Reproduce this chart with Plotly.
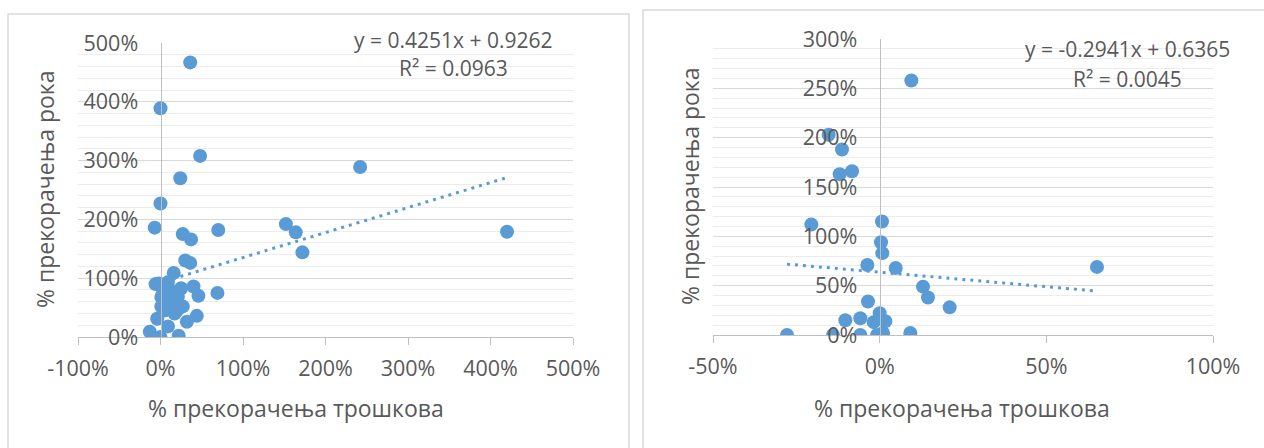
import plotly.graph_objects as go

W, H = 1264, 448

# ---- left panel: all projects (1.0 = 100 %) ----
cost_overrun_a = [0.36, 0.00, 0.48, 0.24, 0.00, -0.07, 0.27, 0.37, 0.70, 1.52,
                  1.64, 1.72, 2.42, 4.20, 0.30, 0.36, 0.16, -0.02, 0.09, 0.40,
                  0.46, 0.69, 0.01, 0.15, 0.21, 0.01, 0.13, 0.27, 0.17, 0.44,
                  0.32, -0.04, 0.09, -0.13, 0.00, 0.22, 0.07, 0.25, -0.06, 0.03,
                  0.10, 0.20, 0.05]
time_overrun_a = [4.67, 3.89, 3.08, 2.70, 2.27, 1.86, 1.75, 1.66, 1.82, 1.92,
                  1.78, 1.44, 2.89, 1.79, 1.30, 1.26, 1.09, 0.91, 0.93, 0.86,
                  0.70, 0.75, 0.68, 0.77, 0.69, 0.52, 0.55, 0.52, 0.40, 0.36,
                  0.26, 0.31, 0.18, 0.09, 0.00, 0.02, 0.60, 0.83, 0.90, 0.80,
                  0.70, 0.45, 0.45]
slope_a, intercept_a, r2_a = 0.4251, 0.9262, 0.0963
xticks_a = [-1, 0, 1, 2, 3, 4, 5]
xlabels_a = ["-100%", "0%", "100%", "200%", "300%", "400%", "500%"]
yticks_a = [0, 1, 2, 3, 4, 5]
ylabels_a = ["0%", "100%", "200%", "300%", "400%", "500%"]

# ---- right panel: subset ----
cost_overrun_b = [0.095, -0.153, -0.113, -0.120, -0.083, -0.205, 0.007, 0.004,
                  0.008, -0.037, 0.048, 0.130, 0.145, 0.210, -0.035, -0.103,
                  -0.058, 0.000, 0.017, -0.018, -0.278, -0.140, -0.058, -0.008,
                  0.010, 0.092, 0.652]
time_overrun_b = [2.58, 2.03, 1.88, 1.63, 1.66, 1.12, 1.15, 0.94, 0.83, 0.71,
                  0.68, 0.49, 0.38, 0.28, 0.34, 0.15, 0.17, 0.22, 0.14, 0.13,
                  0.00, 0.00, 0.00, 0.00, 0.02, 0.02, 0.69]
slope_b, intercept_b, r2_b = -0.2941, 0.6365, 0.0045
xticks_b = [-0.5, 0, 0.5, 1]
xlabels_b = ["-50%", "0%", "50%", "100%"]
yticks_b = [0, 0.5, 1, 1.5, 2, 2.5, 3]
ylabels_b = ["0%", "50%", "100%", "150%", "200%", "250%", "300%"]

x_title = "% прекорачења трошкова"
y_title = "% прекорачења рока"

BLUE = "#5B9BD5"
TEXT = "#595959"
AXIS = "#bfbfbf"
MAJOR = "#d9d9d9"
MINOR = "#ececec"
FONT = "Open Sans"


def px(x):
    return x / W


def py(y):
    return 1 - y / H


def trend(xs, m, b):
    lo, hi = min(xs), max(xs)
    return [lo, hi], [m * lo + b, m * hi + b]


fig = go.Figure()

for xs, ys, m, b, xa, ya in [
    (cost_overrun_a, time_overrun_a, slope_a, intercept_a, "x", "y"),
    (cost_overrun_b, time_overrun_b, slope_b, intercept_b, "x2", "y2"),
]:
    tx, ty = trend(xs, m, b)
    fig.add_trace(go.Scatter(x=tx, y=ty, mode="lines", xaxis=xa, yaxis=ya,
                             line=dict(color=BLUE, width=3, dash="3px,5px"),
                             hoverinfo="skip", showlegend=False))
    fig.add_trace(go.Scatter(x=xs, y=ys, mode="markers", xaxis=xa, yaxis=ya,
                             marker=dict(color=BLUE, size=14, line=dict(width=0)),
                             showlegend=False))

tick_font = dict(family=FONT, size=21.5, color=TEXT)

common_x = dict(showgrid=False, zeroline=False, showline=True, linecolor=AXIS,
                linewidth=1, ticks="outside", ticklen=7, tickcolor=AXIS,
                tickmode="array", tickfont=tick_font, ticklabelstandoff=5,
                automargin=False, fixedrange=True)
common_y = dict(showgrid=True, gridcolor=MAJOR, zeroline=False, showline=True,
                linecolor=AXIS, linewidth=1, ticks="", tickmode="array",
                tickfont=tick_font, anchor="free", ticklabelstandoff=18,
                automargin=False, fixedrange=True)

fig.update_layout(
    width=W, height=H, autosize=False,
    margin=dict(l=0, r=0, t=0, b=0, pad=0, autoexpand=False),
    paper_bgcolor="white", plot_bgcolor="white",
    font=dict(family=FONT, color=TEXT),
    xaxis=dict(common_x, domain=[px(78), px(573)], range=[-1, 5],
               tickvals=xticks_a, ticktext=xlabels_a, anchor="y"),
    yaxis=dict(common_y, domain=[py(337), py(43)], range=[0, 5],
               tickvals=yticks_a, ticktext=ylabels_a, position=px(160.5),
               minor=dict(tickmode="linear", tick0=0, dtick=0.2,
                          showgrid=True, gridcolor=MINOR)),
    xaxis2=dict(common_x, domain=[px(713), px(1213)], range=[-0.5, 1],
                tickvals=xticks_b, ticktext=xlabels_b, anchor="y2"),
    yaxis2=dict(common_y, domain=[py(335), py(39)], range=[0, 3],
                tickvals=yticks_b, ticktext=ylabels_b, position=px(879.7),
                minor=dict(tickmode="linear", tick0=0, dtick=0.1,
                           showgrid=True, gridcolor=MINOR)),
)

# chart frames
fig.add_shape(type="rect", xref="paper", yref="paper",
              x0=px(8), x1=px(629), y0=-0.2, y1=py(14),
              line=dict(color=MAJOR, width=1.5), layer="below")
fig.add_shape(type="rect", xref="paper", yref="paper",
              x0=px(643), x1=1.2, y0=-0.2, y1=py(10),
              line=dict(color=MAJOR, width=1.5), layer="below")

title_font = dict(family=FONT, size=23, color=TEXT)
label_font = dict(family=FONT, size=21, color=TEXT)

ann = [
    # axis titles
    dict(x=px(296), y=py(408), text=x_title, font=title_font),
    dict(x=px(962), y=py(408), text=x_title, font=title_font),
    dict(x=px(45), y=py(190), text=y_title, font=title_font, textangle=-90),
    dict(x=px(690), y=py(187), text=y_title, font=title_font, textangle=-90),
    # trend-line equations
    dict(x=px(453), y=py(40),
         text=f"y = {slope_a:.4f}x + {intercept_a:.4f}", font=label_font),
    dict(x=px(453), y=py(68), text=f"R² = {r2_a:.4f}", font=label_font),
    dict(x=px(1127), y=py(49),
         text=f"y = {slope_b:.4f}x + {intercept_b:.4f}", font=label_font),
    dict(x=px(1127), y=py(79), text=f"R² = {r2_b:.4f}", font=label_font),
]
for a in ann:
    fig.add_annotation(xref="paper", yref="paper", showarrow=False,
                       xanchor="center", yanchor="middle", **a)

fig.write_html("out.html")
